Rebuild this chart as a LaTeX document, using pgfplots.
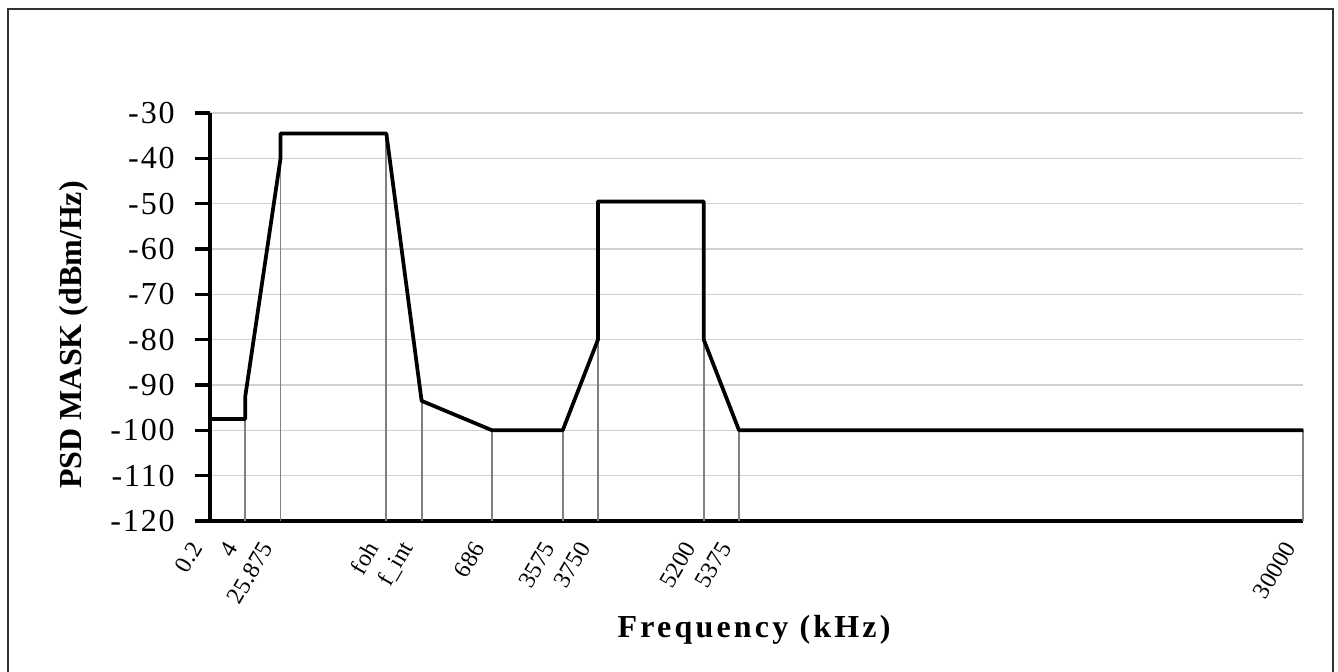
\documentclass[border=0pt]{standalone}
\usepackage{pgfplots}
\pgfplotsset{compat=1.18}
\usepackage{fontspec}
\setmainfont{Liberation Serif}
\newfontfamily\tickfont{Liberation Serif}[LetterSpace=6]
\newfontfamily\xtickfont{Liberation Serif}[LetterSpace=1]
\newfontfamily\labelfont{Liberation Serif}[LetterSpace=10]

\begin{document}
\begin{tikzpicture}[x=1pt,y=1pt]
\useasboundingbox (0,0) rectangle (1003.5,503.25);
% outer frame
\draw[line width=1.5pt, black!80] (6,-5) rectangle (999.75,496.5);
\begin{axis}[
  at={(157.5pt,112.5pt)}, anchor=south west,
  scale only axis, width=820pt, height=306pt,
  xmin=0, xmax=31, ymin=-120, ymax=-30,
  clip=false,
  axis lines*=left,
  axis line style={line width=2.6pt, black},
  xtick={0,1,2,5,6,8,10,11,14,15,31},
  xticklabels={0.2,4,25.875,foh,f\_int,686,3575,3750,5200,5375,30000},
  xtick style={draw=none},
  ytick={-120,-110,...,-30},
  yticklabels={-120,-110,-100,-90,-80,-70,-60,-50,-40,-30},
  ytick style={line width=2.6pt, black},
  tick align=outside,
  major tick length=11.25pt,
  ymajorgrids,
  grid style={line width=0.8pt, black!18},
  yticklabel style={font=\tickfont\fontsize{24}{28}\selectfont, anchor=east, inner sep=0pt},
  yticklabel shift=15pt,
  xticklabel style={font=\xtickfont\fontsize{18}{21}\selectfont, rotate=60, anchor=east, inner sep=0pt, xshift=-10pt, yshift=6pt},
  xlabel={Frequency (kHz)},
  ylabel={PSD MASK (dBm/Hz)},
  xlabel style={font=\labelfont\bfseries\fontsize{24}{28}\selectfont, at={(axis description cs:0.4976,-0.267)}, anchor=center},
  ylabel style={font=\bfseries\fontsize{24}{28}\selectfont, at={(axis description cs:-0.1244,0.456)}, anchor=center, rotate=0},
  unbounded coords=jump,
]
% drop lines from each breakpoint to the frequency axis
\addplot[line width=1.4pt, black!50] coordinates {
  (1,-120) (1,-97.5) (1,nan)
  (2,-120) (2,-40) (2,nan)
  (5,-120) (5,-34.5) (5,nan)
  (6,-120) (6,-93.5) (6,nan)
  (8,-120) (8,-100) (8,nan)
  (10,-120) (10,-100) (10,nan)
  (11,-120) (11,-80) (11,nan)
  (14,-120) (14,-80) (14,nan)
  (15,-120) (15,-100) (15,nan)
  (31,-120) (31,-100)
};
% PSD mask
\addplot[line width=2.8pt, black, line join=round] coordinates {
  (0,-97.5) (1,-97.5) (1,-92.5) (2,-40) (2,-34.5) (5,-34.5)
  (6,-93.5) (8,-100) (10,-100) (11,-80) (11,-49.5) (14,-49.5)
  (14,-80) (15,-100) (31,-100)
};
\end{axis}
\end{tikzpicture}
\end{document}
